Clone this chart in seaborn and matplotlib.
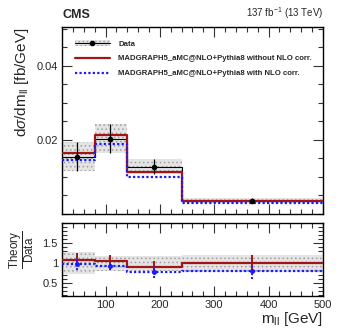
import numpy as np
import pandas as pd
import seaborn as sns
import matplotlib
matplotlib.use("Agg")
import matplotlib.pyplot as plt
from matplotlib.patches import Patch
from matplotlib.lines import Line2D
from matplotlib.ticker import MultipleLocator

# --- dati ---
bin_edges = [20, 80, 140, 240, 500]
bin_centers = [50, 110, 190, 370]
data_x = [48, 109, 189, 370]
data_xs = [0.01549, 0.0203, 0.0128, 0.0036]
data_err = [0.0040, 0.0039, 0.0021, 0.0006]
mg_no_corr = [0.0164, 0.0214, 0.0114, 0.0035]
mg_corr = [0.0146, 0.0188, 0.0099, 0.0029]

ratio_no_corr = [1.09, 1.065, 0.915, 1.0]
ratio_corr = [0.98, 0.93, 0.79, 0.81]
ratio_no_corr_err = [0.16, 0.15, 0.15, 0.2]
ratio_corr_err = [0.15, 0.1, 0.15, 0.2]
data_rel_err = [0.27, 0.19, 0.19, 0.21]

RED = "#a31515"
BLUE = "#1a1aff"

sns.set_theme(style="ticks")
plt.rcParams["font.family"] = ["Liberation Sans", "DejaVu Sans"]
plt.rcParams["mathtext.fontset"] = "custom"
plt.rcParams["mathtext.rm"] = "Liberation Sans"
plt.rcParams["mathtext.it"] = "Liberation Sans:italic"
plt.rcParams["hatch.color"] = "#9a9a9a"
plt.rcParams["hatch.linewidth"] = 0.6

fig = plt.figure(figsize=(3.41, 3.30), dpi=100)
ax = fig.add_axes([0.182, 0.3515, 0.765, 0.5665])
axr = fig.add_axes([0.182, 0.103, 0.765, 0.222])


def banda(a, lo, hi):
    lo = list(lo) + [lo[-1]]
    hi = list(hi) + [hi[-1]]
    a.fill_between(bin_edges, lo, hi, step="post", facecolor="#e4e4e4",
                   edgecolor="#a0a0a0", hatch="....", linewidth=0, zorder=1)


# --- pannello superiore ---
lo = [v - e for v, e in zip(data_xs, data_err)]
hi = [v + e for v, e in zip(data_xs, data_err)]
banda(ax, lo, hi)
sns.histplot(x=bin_centers, weights=data_xs, bins=bin_edges, element="step",
             fill=False, color="black", linewidth=0.8, ax=ax, zorder=2)
sns.histplot(x=bin_centers, weights=mg_no_corr, bins=bin_edges, element="step",
             fill=False, color=RED, linewidth=1.6, ax=ax, zorder=3)
sns.histplot(x=bin_centers, weights=mg_corr, bins=bin_edges, element="step",
             fill=False, color=BLUE, linewidth=1.6, linestyle=(0, (1, 1)),
             ax=ax, zorder=4)
ax.errorbar(data_x, data_xs, yerr=data_err, fmt="o", color="black",
            markersize=3, elinewidth=0.9, capsize=0, zorder=5)

ax.set_xlim(20, 500)
ax.set_ylim(0, 0.0505)
ax.set_yticks([0.02, 0.04])
ax.set_yticklabels(["0.02", "0.04"])
ax.yaxis.set_minor_locator(MultipleLocator(0.005))
ax.xaxis.set_major_locator(MultipleLocator(100))
ax.xaxis.set_minor_locator(MultipleLocator(20))
ax.set_xticklabels([])
ax.set_xlabel("")
ax.set_ylabel(r"d$\sigma$/dm$_{\mathrm{ll}}$ [fb/GeV]", fontsize=11, loc="top")

h_data = (Patch(facecolor="#e4e4e4", edgecolor="#a0a0a0", hatch="....", linewidth=0),
          Line2D([0, 1], [0, 0], color="black", linewidth=0.8),
          Line2D([], [], marker="o", color="black", markersize=3, linestyle="none"))
h_red = Line2D([], [], color=RED, linewidth=1.6)
h_blue = Line2D([], [], color=BLUE, linewidth=1.6, linestyle=(0, (1, 1)))
leg = ax.legend([h_data, h_red, h_blue],
                ["Data",
                 "MADGRAPH5_aMC@NLO+Pythia8 without NLO corr.",
                 "MADGRAPH5_aMC@NLO+Pythia8 with NLO corr."],
                loc="upper left", bbox_to_anchor=(0.03, 0.955), frameon=False,
                prop={"size": 5.6, "weight": "bold"}, handlelength=4.6,
                handletextpad=1.05, labelspacing=0.95, borderaxespad=0.2)

fig.text(0.182, 0.935, "CMS", fontsize=9, fontweight="bold", ha="left", va="bottom")
fig.text(0.947, 0.935, r"137 fb$^{-1}$ (13 TeV)", fontsize=7, ha="right", va="bottom")

# --- pannello rapporto ---
banda(axr, [1 - e for e in data_rel_err], [1 + e for e in data_rel_err])
sns.histplot(x=bin_centers, weights=ratio_no_corr, bins=bin_edges, element="step",
             fill=False, color=RED, linewidth=1.6, ax=axr, zorder=3)
sns.histplot(x=bin_centers, weights=ratio_corr, bins=bin_edges, element="step",
             fill=False, color=BLUE, linewidth=1.6, linestyle=(0, (1, 1)),
             ax=axr, zorder=4)
axr.errorbar(data_x, ratio_no_corr, yerr=ratio_no_corr_err, fmt="none",
             ecolor=RED, elinewidth=1.4, zorder=5)
eb = axr.errorbar(data_x, ratio_corr, yerr=ratio_corr_err, fmt="o", color=BLUE,
                  markersize=2.5, elinewidth=1.4, zorder=6)
eb[2][0].set_linestyle((0, (1, 1)))

axr.set_xlim(20, 500)
axr.set_ylim(0.18, 2.01)
axr.set_yticks([0.5, 1, 1.5])
axr.set_yticklabels(["0.5", "1", "1.5"])
axr.yaxis.set_minor_locator(MultipleLocator(0.1))
axr.xaxis.set_major_locator(MultipleLocator(100))
axr.xaxis.set_minor_locator(MultipleLocator(20))
axr.set_xticks([100, 200, 300, 400, 500])
axr.set_xticklabels(["100", "200", "300", "400", "500"])
axr.set_xlabel(r"m$_{\mathrm{ll}}$ [GeV]", fontsize=11, loc="right", labelpad=0)
axr.set_ylabel(r"$\frac{\mathrm{Theory}}{\mathrm{Data}}$", fontsize=12)
axr.yaxis.set_label_coords(-0.095, 0.63)

for a in (ax, axr):
    a.tick_params(which="both", direction="in", top=True, right=True,
                  labelsize=8, width=0.8, color="#333333", pad=3)
    a.tick_params(which="major", length=7)
    a.tick_params(which="minor", length=3.5)
    for s in a.spines.values():
        s.set_linewidth(1.0)
        s.set_color("black")

fig.savefig("out.png", dpi=100)
